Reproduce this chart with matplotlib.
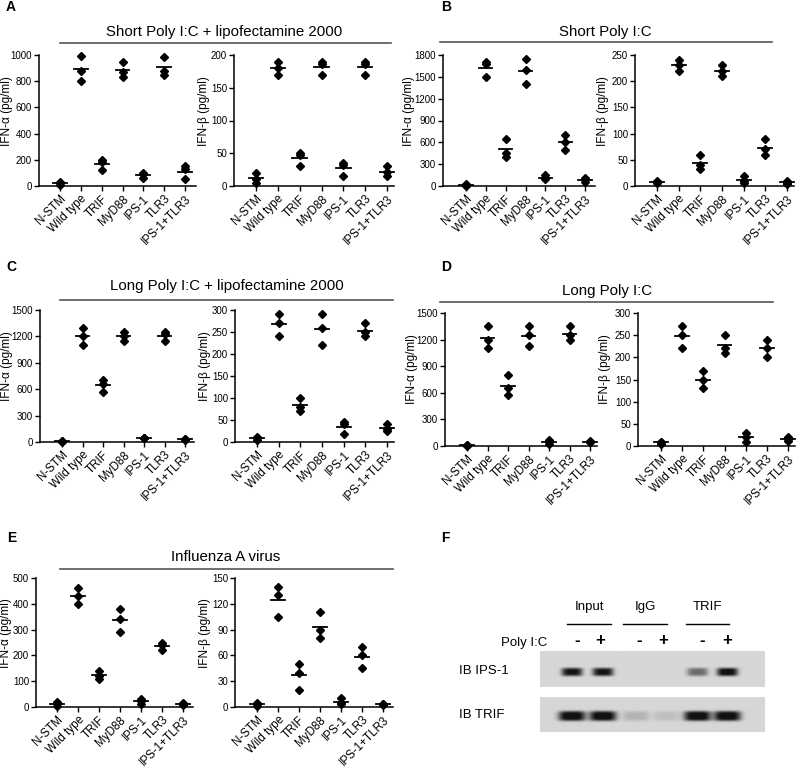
import numpy as np
import matplotlib
matplotlib.use("Agg")
import matplotlib.pyplot as plt
from matplotlib.transforms import ScaledTranslation, blended_transform_factory

plt.rcParams['font.family'] = ['Liberation Sans', 'DejaVu Sans']

W, H = 800, 773
categories = ["N-STM", "Wild type", "TRIF", "MyD88", "IPS-1", "TLR3", "IPS-1+TLR3"]

# ---------------- data (3 replicate points + mean per category) -------------
A_alpha_pts = [[30, 20, 10], [990, 880, 800], [200, 180, 125], [950, 870, 830],
               [100, 90, 60], [985, 880, 850], [150, 130, 50]]
A_alpha_mean = [20, 890, 170, 885, 85, 910, 110]
A_beta_pts = [[20, 10, 5], [190, 180, 170], [50, 47, 30], [190, 187, 170],
              [35, 32, 15], [190, 187, 170], [30, 22, 15]]
A_beta_mean = [12, 180, 42, 182, 27, 182, 22]

B_alpha_pts = [[30, 20, 5], [1700, 1670, 1500], [650, 450, 400], [1750, 1600, 1400],
               [150, 110, 90], [700, 610, 500], [110, 90, 60]]
B_alpha_mean = [18, 1625, 510, 1585, 115, 605, 85]
B_beta_pts = [[10, 7, 5], [240, 230, 220], [60, 40, 32], [230, 220, 210],
              [20, 10, 5], [90, 70, 60], [10, 6, 4]]
B_beta_mean = [7, 230, 44, 220, 12, 73, 7]

C_alpha_pts = [[15, 10, 5], [1300, 1200, 1100], [700, 660, 570], [1250, 1200, 1150],
               [50, 45, 40], [1250, 1230, 1150], [35, 30, 25]]
C_alpha_mean = [10, 1200, 645, 1200, 45, 1210, 30]
C_beta_pts = [[12, 8, 5], [290, 270, 240], [100, 80, 70], [290, 260, 220],
              [45, 40, 18], [270, 250, 240], [40, 30, 25]]
C_beta_mean = [8, 268, 83, 257, 34, 253, 32]

D_alpha_pts = [[15, 10, 5], [1350, 1200, 1100], [800, 650, 570], [1350, 1250, 1130],
               [70, 60, 20], [1350, 1250, 1200], [55, 45, 40]]
D_alpha_mean = [10, 1217, 673, 1243, 50, 1267, 47]
D_beta_pts = [[10, 8, 5], [270, 250, 220], [170, 150, 130], [250, 220, 210],
              [30, 20, 10], [240, 220, 200], [20, 15, 12]]
D_beta_mean = [8, 247, 150, 227, 20, 220, 16]

E_alpha_pts = [[20, 15, 5], [460, 430, 400], [140, 120, 110], [380, 340, 290],
               [30, 25, 10], [250, 240, 220], [15, 12, 8]]
E_alpha_mean = [13, 430, 123, 337, 22, 237, 12]
E_beta_pts = [[5, 3, 1], [140, 130, 105], [50, 40, 20], [110, 90, 80],
              [10, 5, 3], [70, 60, 45], [4, 3, 2]]
E_beta_mean = [3, 125, 37, 93, 6, 58, 3]

# blot band intensities (lanes: Input -/+, IgG -/+, TRIF -/+)
ips1_band = [1.0, 1.0, 0.0, 0.0, 0.55, 1.05]
trif_band = [1.1, 1.1, 0.18, 0.12, 1.1, 1.1]
lane_signs = ["-", "+", "-", "+", "-", "+"]

fig = plt.figure(figsize=(W / 100, H / 100), dpi=100)
ov = fig.add_axes([0, 0, 1, 1])
ov.set_xlim(0, W)
ov.set_ylim(H, 0)
ov.axis("off")

label_shift = ScaledTranslation(6 / 100, 0, fig.dpi_scale_trans)


def scatter_panel(box, pts, means, ymax, ystep, ylabel, label_x):
    xaxis, first, last, xend, ytop, ybot = box
    s = (last - first) / 6.0
    ax = fig.add_axes([xaxis / W, 1 - ybot / H, (xend - xaxis) / W, (ybot - ytop) / H])
    ax.set_xlim((xaxis - first) / s, (xend - first) / s)
    ax.set_ylim(0, ymax)
    for i, (p, m) in enumerate(zip(pts, means)):
        ax.plot([i] * len(p), p, ls="none", marker="D", ms=4.4, color="black",
                clip_on=False, zorder=3)
        ax.plot([i - 0.33, i + 0.33], [m, m], color="black", lw=1.3,
                clip_on=False, zorder=4)
    for sp in ["top", "right"]:
        ax.spines[sp].set_visible(False)
    for sp in ["left", "bottom"]:
        ax.spines[sp].set_linewidth(1.1)
    ax.set_yticks(np.arange(0, ymax + 1, ystep))
    ax.set_xticks(range(len(categories)))
    ax.set_xticklabels(categories, rotation=45, ha="right", rotation_mode="anchor",
                       fontsize=8.4)
    for lbl in ax.get_xticklabels():
        lbl.set_transform(lbl.get_transform() + label_shift)
    ax.tick_params(axis="both", direction="out", length=3.5, width=1, pad=1.5)
    ax.tick_params(axis="y", labelsize=7)
    ax.set_ylabel(ylabel, fontsize=8.5)
    ax.yaxis.set_label_coords(label_x / W, 0.575,
                              transform=blended_transform_factory(fig.transFigure, ax.transAxes))
    ax.yaxis.label.set_va("center")
    ax.patch.set_alpha(0)
    return ax


a_lab = "IFN-\u03b1 (pg/ml)"
b_lab = "IFN-\u03b2 (pg/ml)"

scatter_panel((39, 60, 185, 196, 55, 186), A_alpha_pts, A_alpha_mean, 1000, 200, a_lab, 7)
scatter_panel((234, 256, 387, 394, 55, 186), A_beta_pts, A_beta_mean, 200, 50, b_lab, 204)
scatter_panel((443, 466, 585, 595, 55, 186), B_alpha_pts, B_alpha_mean, 1800, 300, a_lab, 409)
scatter_panel((635, 657, 787, 794, 55, 186), B_beta_pts, B_beta_mean, 250, 50, b_lab, 603)
scatter_panel((40, 62, 185, 194, 310, 442), C_alpha_pts, C_alpha_mean, 1500, 300, a_lab, 7)
scatter_panel((235, 257, 387, 394, 310, 442), C_beta_pts, C_beta_mean, 300, 50, b_lab, 205)
scatter_panel((445, 467, 590, 597, 313, 446), D_alpha_pts, D_alpha_mean, 1500, 300, a_lab, 412)
scatter_panel((638, 661, 788, 795, 313, 446), D_beta_pts, D_beta_mean, 300, 50, b_lab, 605)
scatter_panel((36, 57, 183, 193, 578, 707), E_alpha_pts, E_alpha_mean, 500, 100, a_lab, 6)
scatter_panel((235, 257, 383, 393, 578, 707), E_beta_pts, E_beta_mean, 150, 30, b_lab, 205)

# group titles with rule lines
titles = [("Short Poly I:C + lipofectamine 2000", 224, 32, 43, 60, 391),
          ("Short Poly I:C", 605, 32, 42, 440, 772),
          ("Long Poly I:C + lipofectamine 2000", 227, 286, 300, 60, 393),
          ("Long Poly I:C", 607, 291, 302, 440, 773),
          ("Influenza A virus", 226, 557, 569, 60, 393)]
for t, cx, ty, ly, x0, x1 in titles:
    ov.text(cx, ty, t, ha="center", va="center", fontsize=10.8)
    ov.plot([x0, x1], [ly, ly], color="#555555", lw=1.2)

for lab, x, y in [("A", 11, 7), ("B", 446, 7), ("C", 11, 267), ("D", 446, 267),
                  ("E", 12, 538), ("F", 445, 538)]:
    ov.text(x, y, lab, ha="center", va="center", fontsize=10, fontweight="bold")

# ---------------- panel F: immunoblot ----------------
lane_x = [572, 603, 636, 667, 698, 728]
bg = 0.84


def blot(y0, y1, inten, wx, wy, cy):
    xs = np.arange(540, 766, 0.5)
    ys = np.arange(y0, y1 + 0.01, 0.5)
    X, Y = np.meshgrid(xs, ys)
    dark = np.zeros_like(X)
    for cx, a in zip(lane_x, inten):
        dark += a * np.exp(-((X - cx) / wx) ** 4) * np.exp(-((Y - cy) / wy) ** 4)
    img = bg - (bg - 0.07) * np.clip(dark, 0, 1)
    ov.imshow(img, cmap="gray", vmin=0, vmax=1, extent=(540, 765, y1, y0),
              aspect="auto", interpolation="bilinear", zorder=1)


blot(651, 687, ips1_band, 10.5, 4.2, 672)
blot(697, 732, trif_band, 13.5, 5.0, 716)
ov.set_xlim(0, W)
ov.set_ylim(H, 0)

for t, x0, x1 in [("Input", 567, 611), ("IgG", 623, 667), ("TRIF", 686, 729)]:
    ov.text((x0 + x1) / 2, 607, t, ha="center", va="center", fontsize=9.5)
    ov.plot([x0, x1], [624, 624], color="black", lw=1)
ov.text(547, 643, "Poly I:C", ha="right", va="center", fontsize=9.5)
sign_x = [577, 600, 639, 663, 702, 727]
for s_, x in zip(lane_signs, sign_x):
    ov.text(x, 640, s_, ha="center", va="center", fontsize=12, fontweight="bold")
ov.text(459, 671, "IB IPS-1", ha="left", va="center", fontsize=9.5)
ov.text(459, 715, "IB TRIF", ha="left", va="center", fontsize=9.5)

fig.savefig("out.png", dpi=100)
